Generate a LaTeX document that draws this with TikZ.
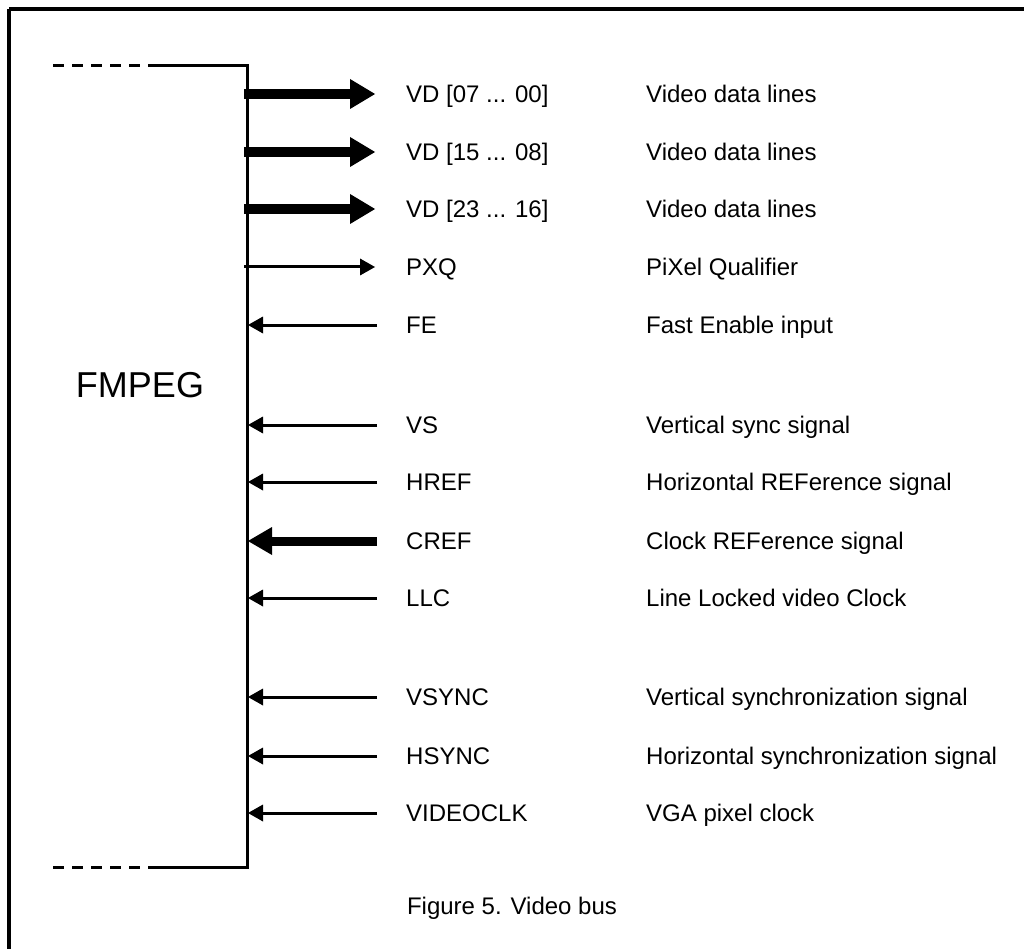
\documentclass[tikz,border=0pt]{standalone}
\usepackage{fontspec}
\setmainfont{Liberation Sans}
\usetikzlibrary{arrows.meta}
\begin{document}
\begin{tikzpicture}[x=1pt,y=-1pt,
  frameline/.style={line width=3.5pt},
  boxline/.style={line width=3pt},
  dashline/.style={line width=3pt, dash pattern=on 11pt off 8pt},
  busout/.style={line width=10pt,-{Triangle[length=25pt,width=30pt,line width=0pt]}},
  sigthin/.style={line width=3pt,-{Triangle[length=15pt,width=17pt,line width=0pt]}},
  busin/.style={line width=9pt,-{Triangle[length=24pt,width=28pt,line width=0pt]}},
  lbl/.style={anchor=base west, inner sep=0pt, font=\fontsize{24}{28}\selectfont},
]
\useasboundingbox (0,0) rectangle (1024,949);
% outer frame (cut at right and bottom)
\draw[frameline] (9,9) -- (1024,9);
\draw[frameline] (9,9) -- (9,949);
% FMPEG block
\draw[boxline] (150,66) -- (247,66) -- (247,867) -- (150,867);
\draw[dashline] (53,66) -- (150,66);
\draw[dashline] (53,867) -- (150,867);
\node[font=\fontsize{36}{40}\selectfont, inner sep=0pt] (fmpeg) at (140,385) {FMPEG};
% outputs
\foreach \i/\y/\sig/\desc/\sty in {
  1/94/{VD [07 ... 00]}/{Video data lines}/busout,
  2/152/{VD [15 ... 08]}/{Video data lines}/busout,
  3/209/{VD [23 ... 16]}/{Video data lines}/busout,
  4/267/{PXQ}/{PiXel Qualifier}/sigthin}{
  \coordinate (b\i) at (244,\y);
  \coordinate (e\i) at (375,\y);
  \draw[\sty] (b\i) -- (e\i);
  \node[lbl] (s\i) at (406,\y+8.5) {\sig};
  \node[lbl] (d\i) at (646,\y+8.5) {\desc};
}
% inputs
\foreach \i/\y/\sig/\desc/\sty in {
  5/325/{FE}/{Fast Enable input}/sigthin,
  6/425/{VS}/{Vertical sync signal}/sigthin,
  7/482/{HREF}/{Horizontal REFerence signal}/sigthin,
  8/541/{CREF}/{Clock REFerence signal}/busin,
  9/598/{LLC}/{Line Locked video Clock}/sigthin,
  10/697/{VSYNC}/{Vertical synchronization signal}/sigthin,
  11/756/{HSYNC}/{Horizontal synchronization signal}/sigthin,
  12/813/{VIDEOCLK}/{VGA pixel clock}/sigthin}{
  \coordinate (b\i) at (248,\y);
  \coordinate (e\i) at (377,\y);
  \draw[\sty] (e\i) -- (b\i);
  \node[lbl] (s\i) at (406,\y+8.5) {\sig};
  \node[lbl] (d\i) at (646,\y+8.5) {\desc};
}
\node[font=\fontsize{24}{28}\selectfont, inner sep=0pt] (caption) at (512,908) {Figure 5. Video bus};
\end{tikzpicture}
\end{document}
